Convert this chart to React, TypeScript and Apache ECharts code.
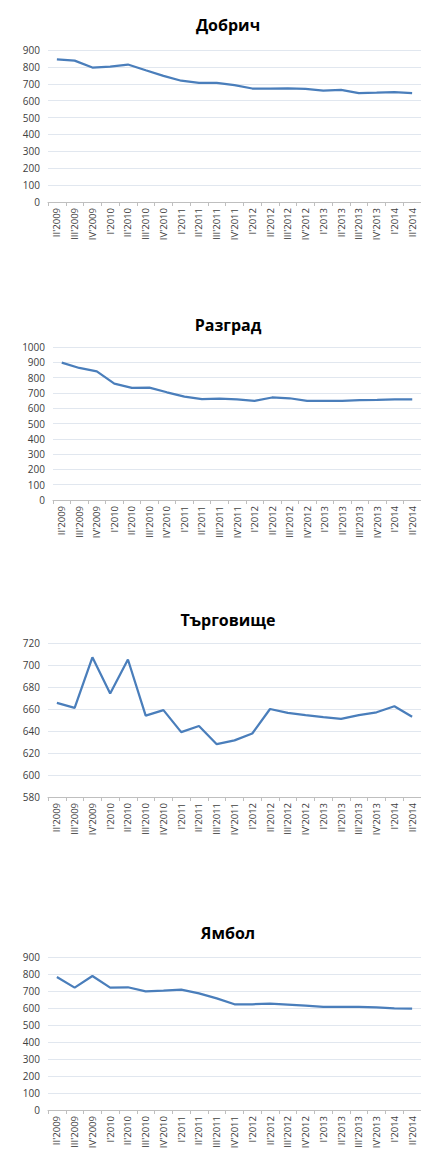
import React, { useEffect, useRef } from "react";
import * as echarts from "echarts";

const categories = [
  "II'2009", "III'2009", "IV'2009", "I'2010", "II'2010", "III'2010", "IV'2010",
  "I'2011", "II'2011", "III'2011", "IV'2011", "I'2012", "II'2012", "III'2012",
  "IV'2012", "I'2013", "II'2013", "III'2013", "IV'2013", "I'2014", "II'2014",
];

const titles = ["Добрич", "Разград", "Търговище", "Ямбол"];

const dobrich = [845, 837, 796, 802, 814, 780, 747, 718, 705, 706, 692, 672, 672, 673, 670, 660, 664, 645, 647, 650, 645];
const razgrad = [898, 863, 841, 761, 733, 735, 704, 676, 659, 663, 657, 648, 670, 665, 648, 648, 648, 652, 654, 657, 657];
const targovishte = [665.5, 661, 707, 674, 705, 654, 659, 639, 644.5, 628, 631.5, 637.7, 660, 656.5, 654.5, 652.6, 651, 654.5, 657, 662.5, 653];
const yambol = [782, 720, 788, 720, 722, 698, 702, 708, 686, 657, 622, 622, 626, 620, 614, 606, 606, 606, 604, 598, 596];

const seriesData = [dobrich, razgrad, targovishte, yambol];
const yMins = [0, 0, 580, 0];
const yMaxs = [900, 1000, 720, 900];
const yIntervals = [100, 100, 20, 100];

const grids = [
  { left: 48, right: 0, top: 50, height: 152 },
  { left: 53, right: 0, top: 347, height: 153 },
  { left: 48, right: 0, top: 643, height: 154 },
  { left: 48, right: 0, top: 957, height: 153 },
];
const titleTops = [12, 312, 607, 920];

const FONT = "'Open Sans', 'Liberation Sans', sans-serif";

export default function App() {
  const ref = useRef<HTMLDivElement>(null);
  useEffect(() => {
    if (!ref.current) return;
    const chart = echarts.init(ref.current, undefined, { renderer: "svg" });
    chart.setOption({
      animation: false,
      backgroundColor: "#ffffff",
      title: titles.map((t, i) => ({
        text: t,
        left: 223,
        textAlign: "center",
        top: titleTops[i],
        textStyle: { fontFamily: FONT, fontSize: 16, fontWeight: "bold", color: "#000000" },
      })),
      grid: grids.map((g) => ({ ...g, containLabel: false })),
      xAxis: grids.map((_, i) => ({
        type: "category",
        gridIndex: i,
        data: categories,
        boundaryGap: true,
        axisLine: { show: true, lineStyle: { color: "#bfbfbf", width: 1 } },
        axisTick: { show: true, alignWithLabel: false, length: 4, lineStyle: { color: "#bfbfbf" } },
        axisLabel: {
          rotate: 90,
          interval: 0,
          margin: 6,
          fontFamily: FONT,
          fontSize: 9.5,
          color: "#404040",
        },
        splitLine: { show: false },
      })),
      yAxis: grids.map((_, i) => ({
        type: "value",
        gridIndex: i,
        min: yMins[i],
        max: yMaxs[i],
        interval: yIntervals[i],
        axisLine: { show: false },
        axisTick: { show: false },
        axisLabel: {
          fontFamily: FONT,
          fontSize: 10,
          color: "#404040",
          margin: 8,
          formatter: (v: number) => String(v),
        },
        splitLine: { show: true, lineStyle: { color: "#e1e7ef", width: 1 } },
      })),
      series: seriesData.map((d, i) => ({
        type: "line",
        xAxisIndex: i,
        yAxisIndex: i,
        data: d,
        showSymbol: false,
        symbol: "none",
        lineStyle: { color: "#4a7ebb", width: 2.25 },
      })),
    });
    return () => chart.dispose();
  }, []);
  return (
    <div
      ref={ref}
      style={{ position: "absolute", left: 0, top: 0, width: 421, height: 1153, background: "#fff" }}
    />
  );
}
